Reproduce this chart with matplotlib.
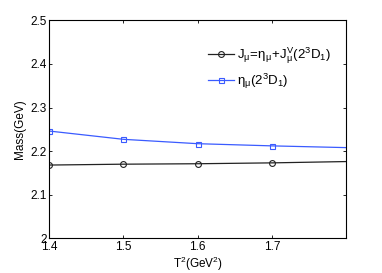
import matplotlib
matplotlib.use('Agg')
import matplotlib.pyplot as plt
from matplotlib.ticker import FixedLocator, FixedFormatter

plt.rcParams['font.family'] = ['Liberation Sans', 'DejaVu Sans']
plt.rcParams['mathtext.fontset'] = 'custom'
plt.rcParams['mathtext.rm'] = 'Liberation Sans'
plt.rcParams['mathtext.it'] = 'Liberation Sans'

# Borel parameter T^2 (GeV^2)
t2 = [1.4, 1.5, 1.6, 1.7, 1.8]
# masses (GeV)
mass_mixed = [2.168, 2.170, 2.171, 2.173, 2.176]
mass_eta = [2.246, 2.227, 2.217, 2.212, 2.208]

xticks = [1.4, 1.5, 1.6, 1.7]
xticklabels = ['1.4', '1.5', '1.6', '1.7']
yticks = [2.0, 2.1, 2.2, 2.3, 2.4, 2.5]
yticklabels = ['2', '2.1', '2.2', '2.3', '2.4', '2.5']

fig = plt.figure(figsize=(3.82, 2.73), dpi=100)
ax = fig.add_axes([49.3 / 382, 1 - 238.3 / 273, (346 - 49.3) / 382, (238.3 - 20.3) / 273])

ax.plot(t2, mass_mixed, color='#222222', lw=0.9, marker='o', ms=4.2, mfc='none',
        mew=0.8, markevery=[0, 1, 2, 3],
        label=r'$\mathrm{J_\mu\!=\!\eta_\mu\!+\!J_\mu^V(2^3D_1)}$')
ax.plot(t2, mass_eta, color='#3a5bff', lw=0.9, marker='s', ms=3.6, mfc='none',
        mew=0.8, markevery=[0, 1, 2, 3],
        label=r'$\mathrm{\eta_\mu(2^3D_1)}$')

ax.set_xlim(1.4, 1.8)
ax.set_ylim(2.0, 2.5)
ax.xaxis.set_major_locator(FixedLocator(xticks))
ax.xaxis.set_major_formatter(FixedFormatter(xticklabels))
ax.yaxis.set_major_locator(FixedLocator(yticks))
ax.yaxis.set_major_formatter(FixedFormatter(yticklabels))
ax.tick_params(direction='in', length=2.5, width=0.6, labelsize=8.5, pad=2,
               top=True, right=True)
for s in ax.spines.values():
    s.set_linewidth(0.8)

ax.set_xlabel(r'T$^2$(GeV$^2$)', fontsize=8.5, labelpad=1)
ax.set_ylabel('Mass(GeV)', fontsize=8.5, labelpad=3)

ax.legend(loc='upper right', bbox_to_anchor=(0.99, 0.94), frameon=False, fontsize=9.5,
          handlelength=2.0, handletextpad=0.2, labelspacing=0.45)

fig.savefig('out.png', dpi=100)
